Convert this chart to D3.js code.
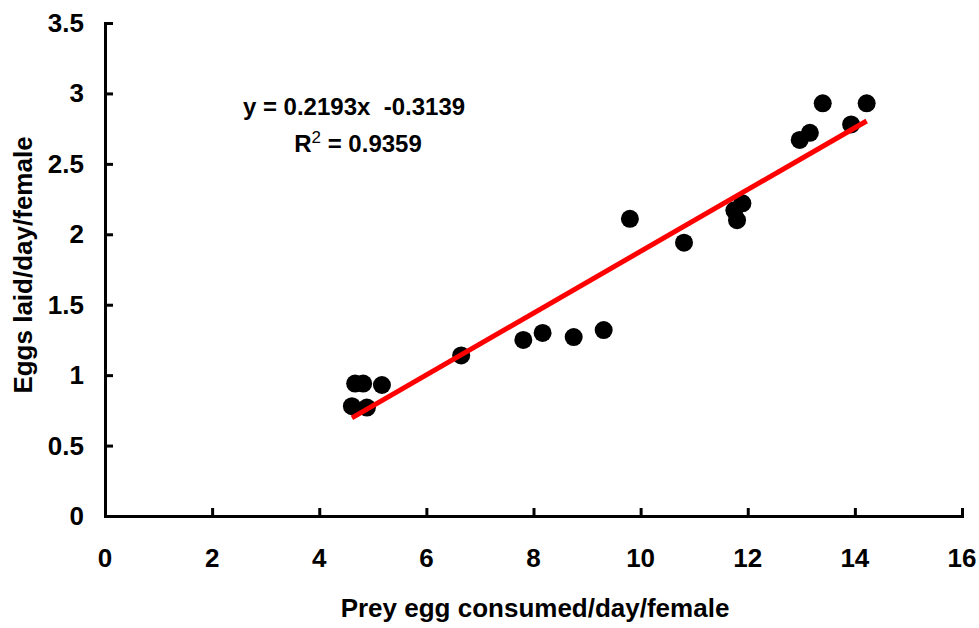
<!DOCTYPE html>
<html>
<head>
<meta charset="utf-8">
<script src="https://cdn.jsdelivr.net/npm/d3@7"></script>
<style>
  body { margin: 0; background: #fff; }
  text { font-family: "Liberation Sans", Arial, sans-serif; font-weight: bold; fill: #000; }
</style>
</head>
<body>
<svg id="chart" width="979" height="628"></svg>
<script>
// prey eggs consumed vs eggs laid, per female per day
var consumed = [4.61, 4.67, 4.82, 4.89, 5.17, 6.65, 7.81, 8.17, 8.75, 9.31,
                9.80, 10.81, 11.75, 11.8, 11.9, 12.97, 13.16, 13.40, 13.93, 14.22];
var laid = [0.78, 0.94, 0.94, 0.77, 0.93, 1.14, 1.25, 1.30, 1.27, 1.32,
            2.11, 1.94, 2.17, 2.10, 2.22, 2.67, 2.72, 2.93, 2.78, 2.93];
var fitSlope = 0.2193, fitIntercept = -0.3139;
var xTicks = [0, 2, 4, 6, 8, 10, 12, 14, 16];
var yTicks = [0, 0.5, 1, 1.5, 2, 2.5, 3, 3.5];

var svg = d3.select('#chart');
var x = d3.scaleLinear().domain([0, 16]).range([105, 962]);
var y = d3.scaleLinear().domain([0, 3.5]).range([516, 23]);

// axes - ticks point inward, labels drawn separately
svg.append('g').attr('transform', 'translate(0,516)')
    .call(d3.axisTop(x).tickValues(xTicks).tickSize(8).tickSizeOuter(0).tickFormat(''));
svg.append('g').attr('transform', 'translate(105,0)')
    .call(d3.axisRight(y).tickValues(yTicks).tickSize(8).tickSizeOuter(0).tickFormat(''));
svg.selectAll('.domain, .tick line').attr('stroke', '#000').attr('stroke-width', 3);
svg.selectAll('.domain').attr('stroke-linecap', 'square');

svg.append('g').selectAll('text').data(xTicks).join('text')
    .attr('x', function(d) { return x(d); })
    .attr('y', 567)
    .attr('text-anchor', 'middle')
    .attr('font-size', 26)
    .text(function(d) { return d; });

svg.append('g').selectAll('text').data(yTicks).join('text')
    .attr('x', 84)
    .attr('y', function(d) { return y(d) + 9; })
    .attr('text-anchor', 'end')
    .attr('font-size', 26)
    .text(function(d) { return d; });

// points
svg.append('g').selectAll('circle').data(consumed).join('circle')
    .attr('cx', function(d) { return x(d); })
    .attr('cy', function(d, i) { return y(laid[i]); })
    .attr('r', 9)
    .attr('fill', '#000');

// trend line over data range
var xmin = d3.min(consumed), xmax = d3.max(consumed);
svg.append('line')
    .attr('x1', x(xmin)).attr('y1', y(fitSlope * xmin + fitIntercept))
    .attr('x2', x(xmax)).attr('y2', y(fitSlope * xmax + fitIntercept))
    .attr('stroke', '#ff0000').attr('stroke-width', 5);

// equation
svg.append('text').attr('x', 354).attr('y', 115).attr('text-anchor', 'middle')
    .attr('font-size', 24).attr('xml:space', 'preserve')
    .text('y = 0.2193x  -0.3139');
var r2 = svg.append('text').attr('x', 358).attr('y', 152).attr('text-anchor', 'middle')
    .attr('font-size', 24);
r2.append('tspan').text('R');
r2.append('tspan').attr('dy', -9).attr('font-size', 17).attr('font-weight', 'normal').text('2');
r2.append('tspan').attr('dy', 9).text(' = 0.9359');

// axis titles
svg.append('text').attr('x', 535).attr('y', 617).attr('text-anchor', 'middle')
    .attr('font-size', 26).text('Prey egg consumed/day/female');
svg.append('text').attr('transform', 'translate(32,265) rotate(-90)')
    .attr('text-anchor', 'middle').attr('font-size', 26)
    .text('Eggs laid/day/female');
</script>
</body>
</html>
